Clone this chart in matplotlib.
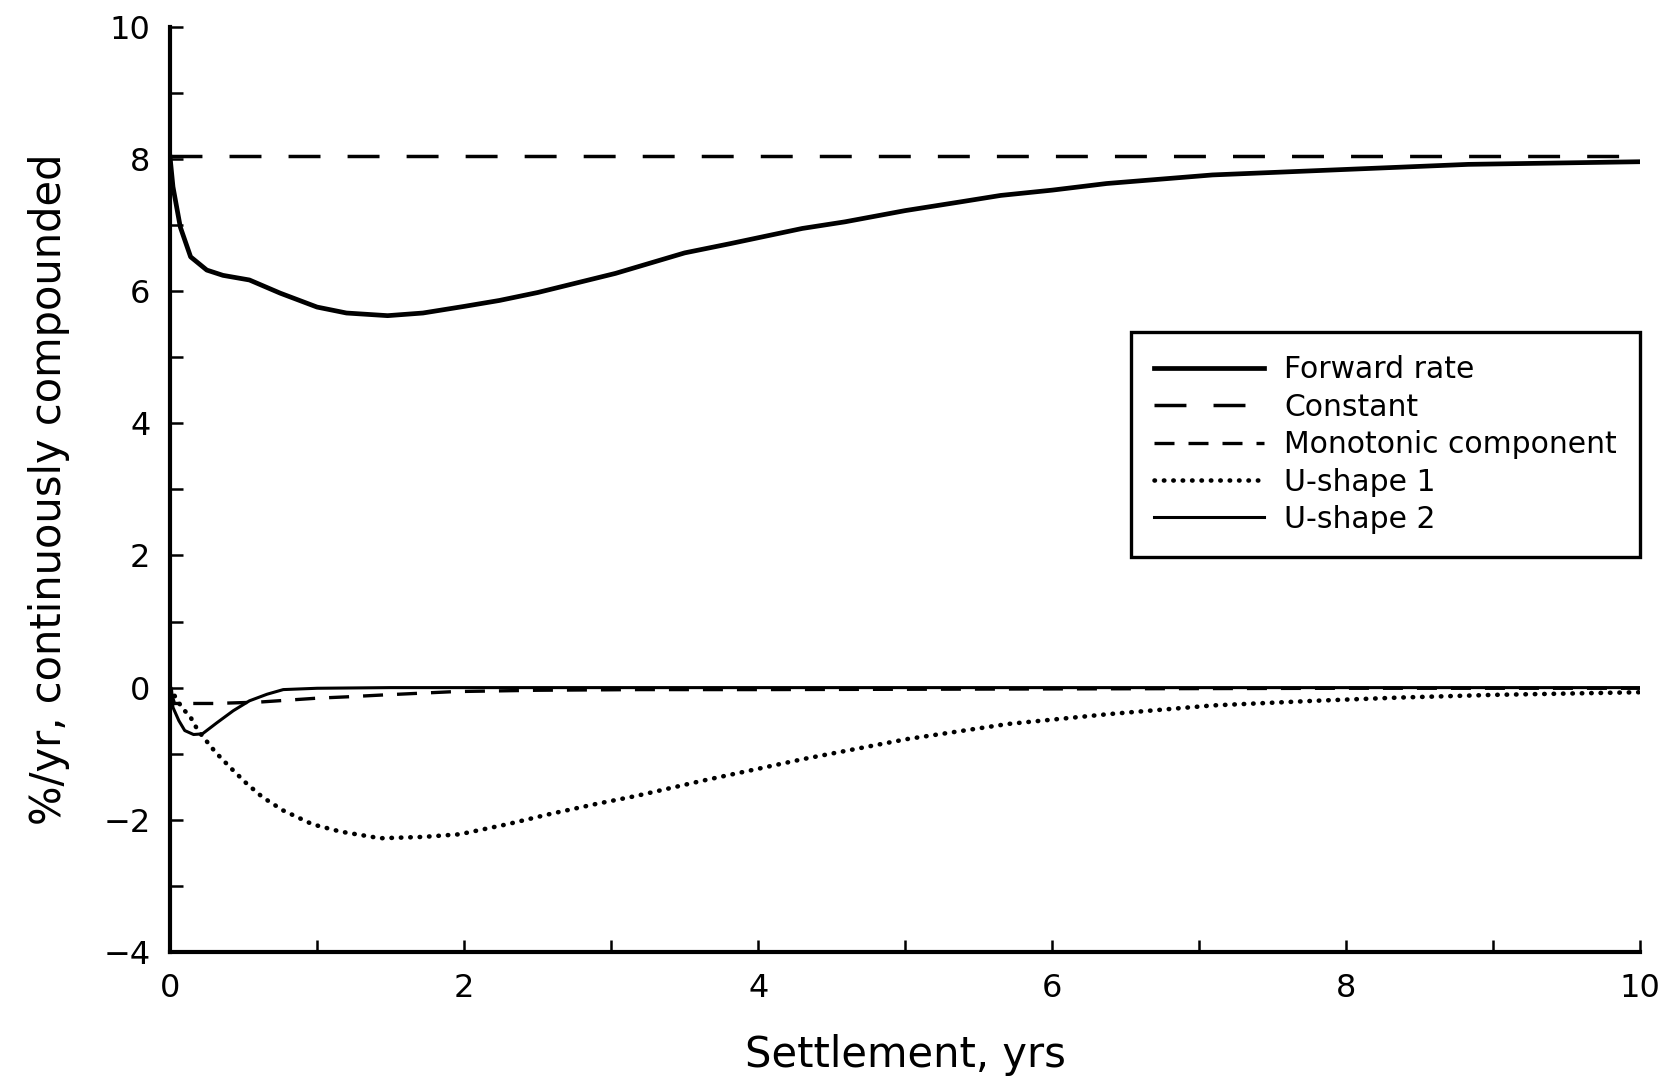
import matplotlib
matplotlib.use("Agg")
import matplotlib.pyplot as plt
from matplotlib.ticker import MultipleLocator

# ---- data ----
fwd_x = [0, 0.02, 0.07, 0.14, 0.25, 0.36, 0.54, 0.75, 1.0, 1.2, 1.48, 1.72, 2.0,
         2.24, 2.5, 3.03, 3.5, 3.81, 4.3, 4.59, 5.0, 5.37, 5.65, 6.0, 6.37, 7.09,
         7.96, 8.83, 10.0]
fwd_y = [8.03, 7.58, 6.97, 6.52, 6.32, 6.24, 6.17, 5.97, 5.76, 5.67, 5.63, 5.67, 5.77,
         5.86, 5.98, 6.27, 6.58, 6.72, 6.95, 7.05, 7.22, 7.35, 7.45, 7.53, 7.63, 7.76,
         7.84, 7.92, 7.96]

const_x = [0, 10]
const_y = [8.04, 8.04]

mono_x = [0, 0.03, 0.3, 0.6, 0.8, 1.0, 1.2, 1.46, 1.94, 2.5, 3.2, 4.0, 6.0, 8.0, 10.0]
mono_y = [-0.02, -0.24, -0.24, -0.22, -0.19, -0.16, -0.14, -0.11, -0.06, -0.04,
          -0.03, -0.03, -0.02, -0.01, -0.01]

u1_x = [0, 0.03, 0.08, 0.14, 0.19, 0.31, 0.41, 0.52, 0.63, 0.77, 0.97, 1.16, 1.43,
        1.72, 1.97, 2.29, 2.59, 2.9, 3.17, 3.62, 4.31, 5.01, 5.7, 6.39, 7.09, 7.78,
        8.37, 9.0, 10.0]
u1_y = [0.0, -0.12, -0.30, -0.45, -0.65, -0.98, -1.21, -1.45, -1.66, -1.86, -2.07,
        -2.18, -2.28, -2.26, -2.22, -2.07, -1.91, -1.76, -1.64, -1.41, -1.08, -0.78,
        -0.55, -0.40, -0.27, -0.20, -0.15, -0.11, -0.07]

u2_x = [0, 0.01, 0.02, 0.06, 0.10, 0.16, 0.22, 0.32, 0.43, 0.54, 0.66, 0.77, 1.0, 1.5, 10.0]
u2_y = [0.0, -0.02, -0.30, -0.50, -0.65, -0.71, -0.70, -0.53, -0.35, -0.20, -0.10,
        -0.03, -0.01, 0.0, 0.0]

labels = ["Forward rate", "Constant", "Monotonic component", "U-shape 1", "U-shape 2"]
x_major = [0, 2, 4, 6, 8, 10]
y_major = [-4, -2, 0, 2, 4, 6, 8, 10]

# ---- figure ----
plt.rcParams['font.family'] = ['DejaVu Sans']
fig = plt.figure(figsize=(16.67, 10.78), dpi=100)
ax = fig.add_axes([0.102, 0.117, 0.882, 0.858])

ax.plot(fwd_x, fwd_y, color='black', lw=3.4, label=labels[0], solid_joinstyle='round')
ax.plot(const_x, const_y, color='black', lw=2.5, linestyle=(0, (9.2, 7.8)), label=labels[1])
ax.plot(mono_x, mono_y, color='black', lw=2.4, linestyle=(0, (6.0, 4.2)), label=labels[2])
ax.plot(u1_x, u1_y, color='black', lw=3.3, linestyle=(0, (0.1, 1.95)),
        dash_capstyle='round', label=labels[3])
ax.plot(u2_x, u2_y, color='black', lw=2.2, label=labels[4])

ax.set_xlim(0, 10)
ax.set_ylim(-4, 10)
ax.set_xticks(x_major)
ax.set_yticks(y_major)
ax.xaxis.set_minor_locator(MultipleLocator(1))
ax.yaxis.set_minor_locator(MultipleLocator(1))
ax.tick_params(which='both', direction='in', length=9, width=1.8, labelsize=23)
ax.tick_params(axis='x', which='major', pad=15)
ax.tick_params(axis='y', which='major', pad=14)

for s in ['top', 'right']:
    ax.spines[s].set_visible(False)
for s in ['left', 'bottom']:
    ax.spines[s].set_linewidth(3.0)

ax.set_xlabel("Settlement, yrs", fontsize=30, labelpad=22)
ax.set_ylabel("%/yr, continuously compounded", fontsize=30, labelpad=24)

leg = ax.legend(loc='upper right', bbox_to_anchor=(1.0, 0.670), borderaxespad=0,
                fontsize=21.5, frameon=True, fancybox=False, edgecolor='black',
                framealpha=1, handlelength=3.7, handletextpad=0.67,
                labelspacing=0.28, borderpad=0.78)
leg.get_frame().set_linewidth(2.4)

fig.savefig("out.png", dpi=100)
